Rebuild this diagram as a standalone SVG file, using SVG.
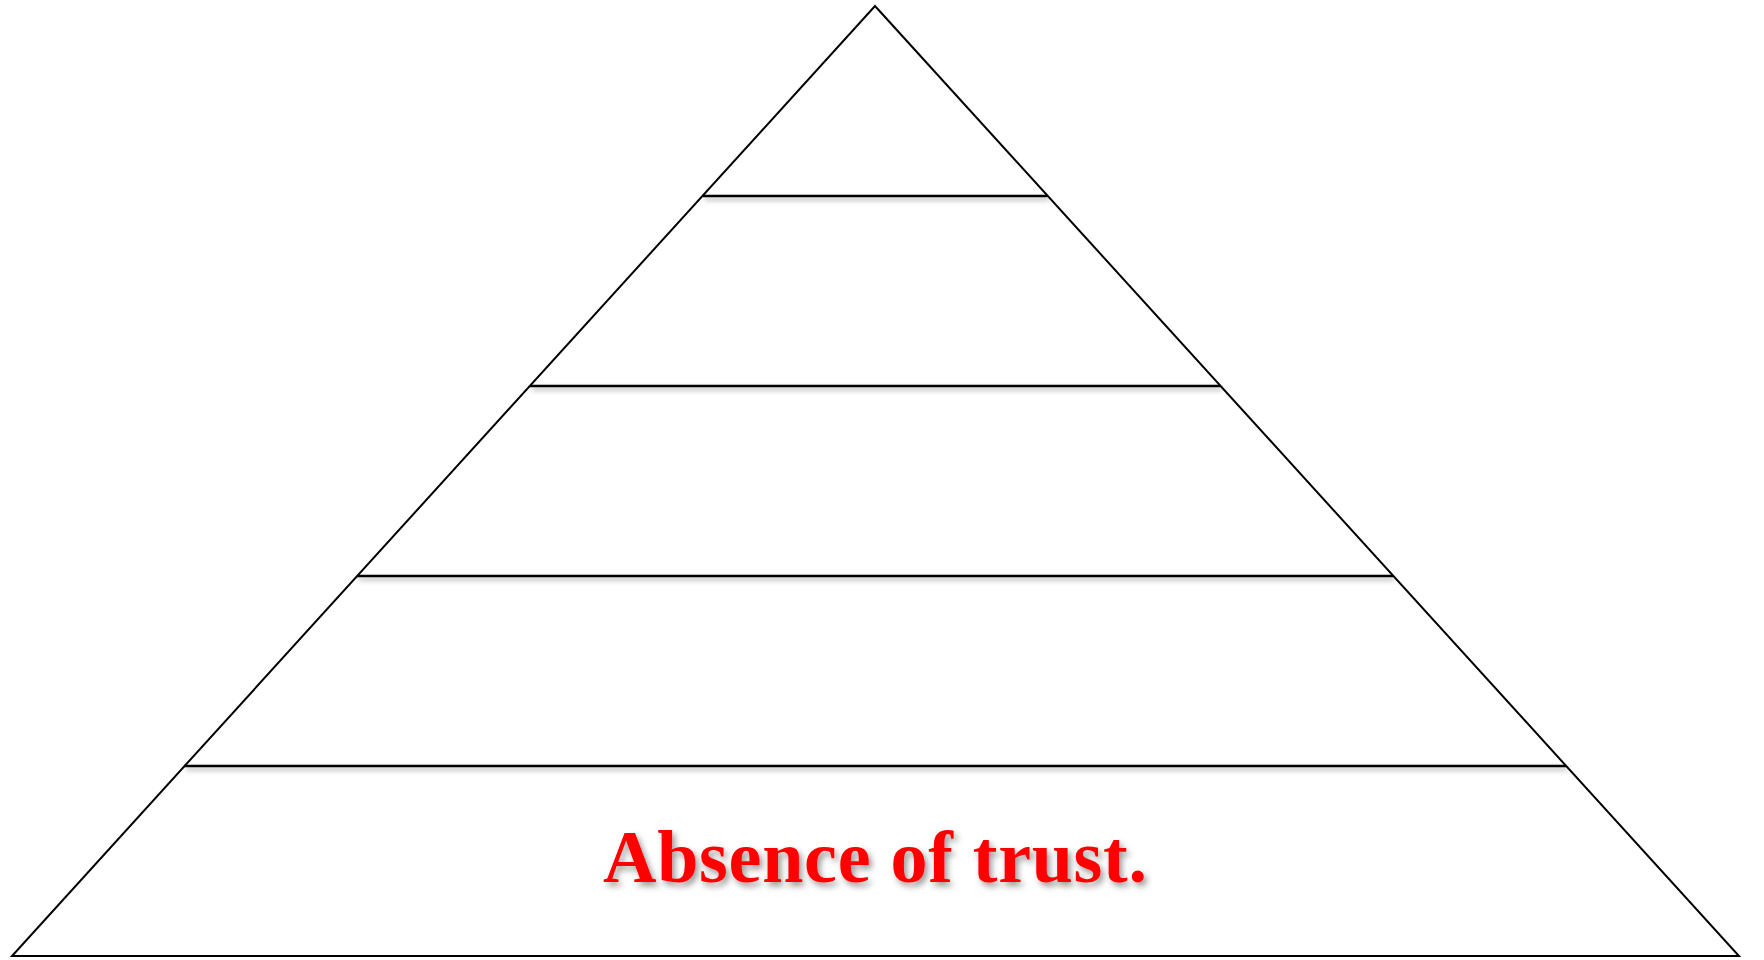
<svg xmlns="http://www.w3.org/2000/svg" width="1764" height="960" viewBox="0 0 1764 960">
  <defs>
    <filter id="sh" x="-5%" y="-50%" width="110%" height="200%">
      <feDropShadow dx="2" dy="3" stdDeviation="2.5" flood-color="#000" flood-opacity="0.35"/>
    </filter>
    <filter id="tsh" x="-5%" y="-20%" width="110%" height="150%">
      <feDropShadow dx="3" dy="4" stdDeviation="3" flood-color="#000" flood-opacity="0.4"/>
    </filter>
  </defs>
  <style>
    .edge { fill: none; stroke: #000; stroke-width: 2; }
    .tier { fill: none; stroke: #000; stroke-width: 2.4; }
    .lbl { font-family: "Liberation Serif", "DejaVu Serif", serif; font-weight: bold; font-size: 74px; fill: #ff0000; }
  </style>
  <rect width="1764" height="960" fill="#fff"/>
  <g id="pyramid">
    <polygon class="edge" points="875,6 1739,956 12,956"/>
  </g>
  <g id="connectors" filter="url(#sh)">
    <line class="tier" x1="703" y1="196" x2="1047" y2="196"/>
    <line class="tier" x1="530" y1="386" x2="1220" y2="386"/>
    <line class="tier" x1="357" y1="576" x2="1393" y2="576"/>
    <line class="tier" x1="184" y1="766" x2="1566" y2="766"/>
  </g>
  <g id="tier5">
    <text class="lbl" x="603" y="882" textLength="544" lengthAdjust="spacing" filter="url(#tsh)">Absence of trust.</text>
  </g>
</svg>
